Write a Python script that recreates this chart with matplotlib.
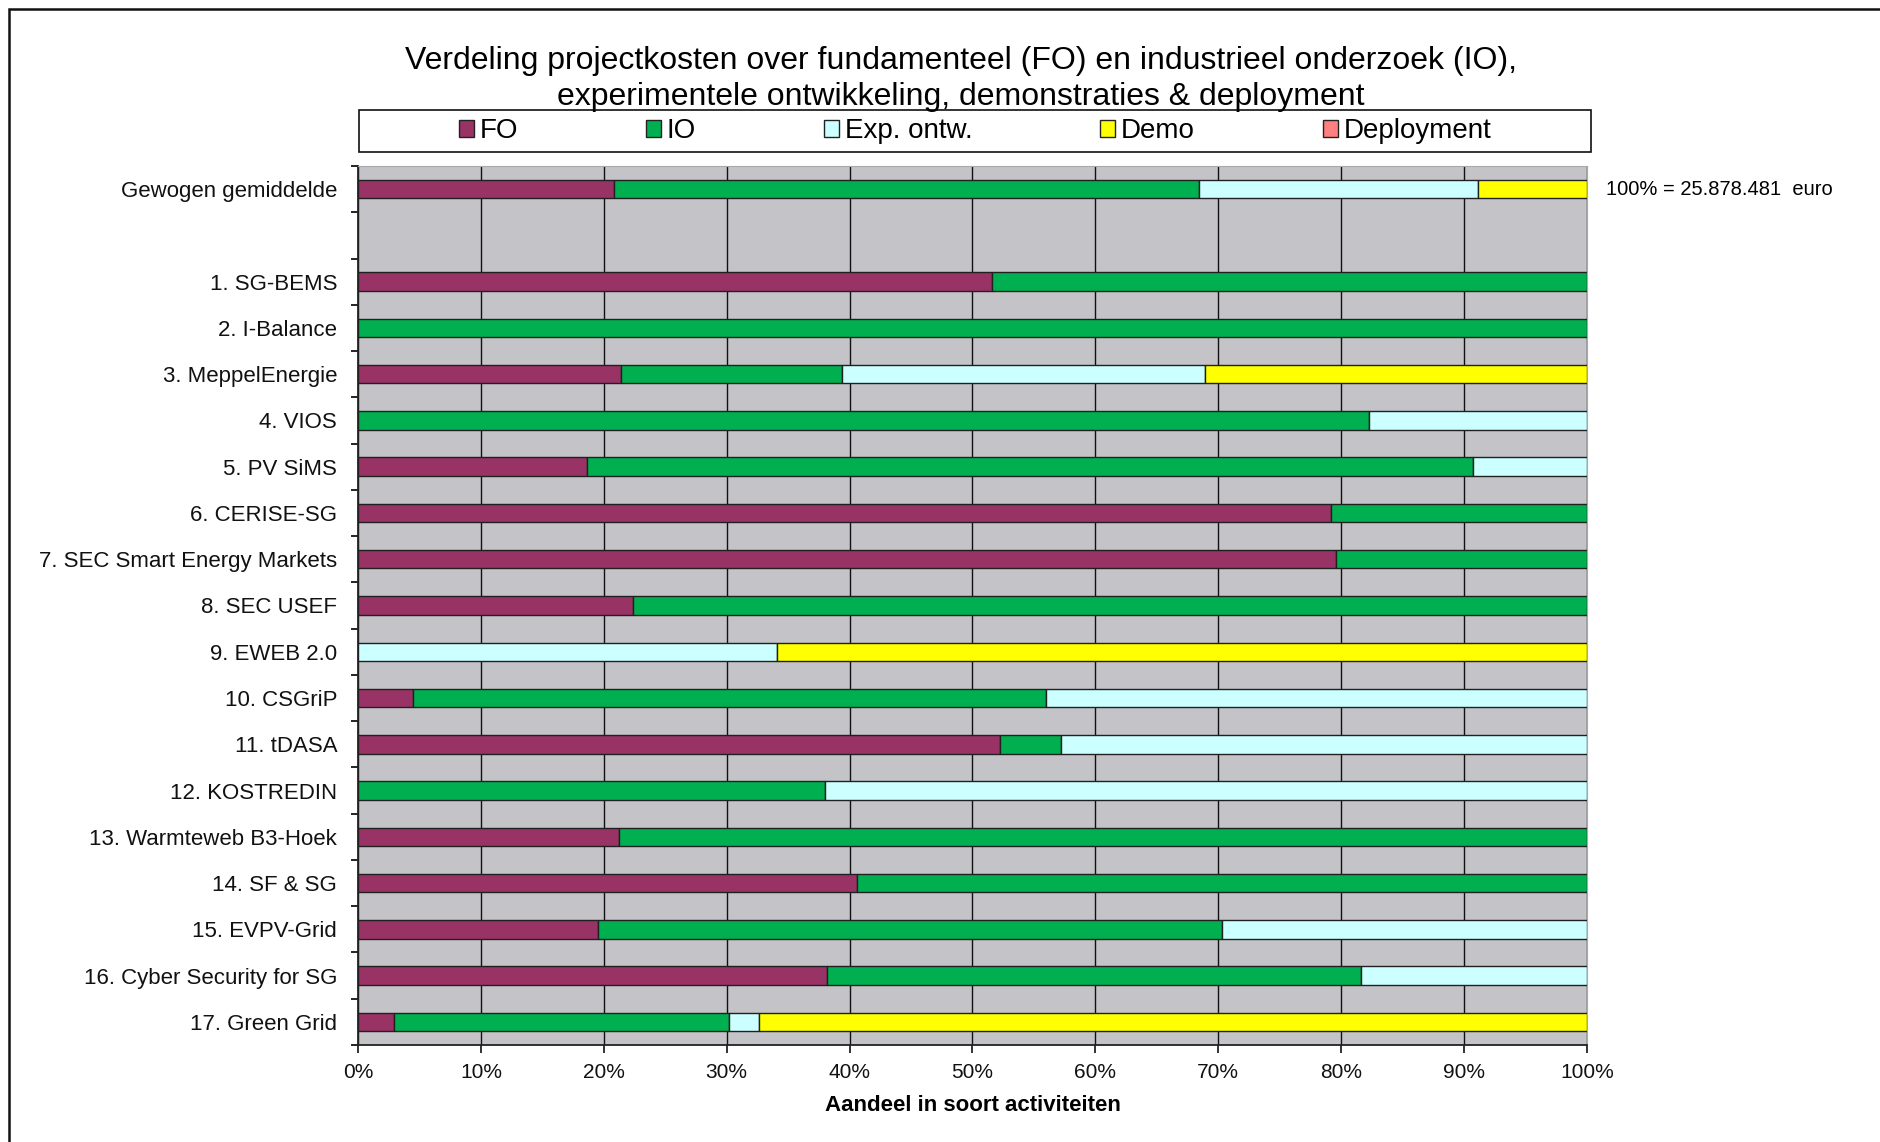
import numpy as np
import matplotlib
matplotlib.use('Agg')
from matplotlib import pyplot as plt
from matplotlib.patches import Rectangle, Patch
from matplotlib.ticker import MultipleLocator, FuncFormatter

plt.rcParams['font.family'] = ['Liberation Sans', 'DejaVu Sans']

labels = ['Gewogen gemiddelde', '', '1. SG-BEMS', '2. I-Balance', '3. MeppelEnergie',
          '4. VIOS', '5. PV SiMS', '6. CERISE-SG', '7. SEC Smart Energy Markets',
          '8. SEC USEF', '9. EWEB 2.0', '10. CSGriP', '11. tDASA', '12. KOSTREDIN',
          '13. Warmteweb B3-Hoek', '14. SF & SG', '15. EVPV-Grid',
          '16. Cyber Security for SG', '17. Green Grid']

# aandelen in procenten per soort activiteit
fo     = [20.8, 0, 51.6,   0, 21.4,    0, 18.6, 79.2, 79.6, 22.4,    0,  4.5, 52.2,    0, 21.2, 40.6, 19.5, 38.2,  2.9]
io     = [47.6, 0, 48.4, 100, 18.0, 82.3, 72.1, 20.8, 20.4, 77.6,    0, 51.5,  5.0, 38.0, 78.8, 59.4, 50.8, 43.4, 27.3]
exp    = [22.7, 0,    0,   0, 29.5, 17.7,  9.3,    0,    0,    0, 34.1, 44.0, 42.8, 62.0,    0,    0, 29.7, 18.4,  2.4]
demo   = [ 8.9, 0,    0,   0, 31.1,    0,    0,    0,    0,    0, 65.9,    0,    0,    0,    0,    0,    0,    0, 67.4]
deploy = [   0, 0,    0,   0,    0,    0,    0,    0,    0,    0,    0,    0,    0,    0,    0,    0,    0,    0,    0]

series = [('FO', fo, '#993366'),
          ('IO', io, '#00b050'),
          ('Exp. ontw.', exp, '#ccffff'),
          ('Demo', demo, '#ffff00'),
          ('Deployment', deploy, '#ff8080')]

totaal = '100% = 25.878.481  euro'

W, H = 1881, 1142
fig = plt.figure(figsize=(W / 100, H / 100), dpi=100)
ax = fig.add_axes([358 / W, 1 - 1045 / H, 1229 / W, 879 / H])
ax.set_facecolor('#c4c3c7')

y = np.arange(len(labels))
left = np.zeros(len(labels))
for name, vals, col in series:
    w = np.array(vals, dtype=float)
    lw = np.where(w > 0, 1.0, 0.0)
    ax.barh(y, w, left=left, height=0.4, color=col, edgecolor='#202020',
            linewidth=lw, zorder=3)
    left += w

ax.set_xlim(0, 100)
ax.set_ylim(len(labels) - 0.5, -0.5)
ax.xaxis.set_major_locator(MultipleLocator(10))
ax.xaxis.set_major_formatter(FuncFormatter(lambda v, p: '%d%%' % v))
ax.grid(axis='x', color='#111111', linewidth=1.0, zorder=1)
ax.set_axisbelow(True)

ax.set_yticks(y)
ax.set_yticklabels(labels)
ax.set_yticks(np.arange(len(labels) + 1) - 0.5, minor=True)
ax.tick_params(axis='y', which='major', length=0, pad=15, labelsize=16, colors='#111111')
ax.tick_params(axis='y', which='minor', length=5, width=1.2, direction='out')
ax.tick_params(axis='x', length=6, width=1.2, pad=7, labelsize=15, colors='#111111')

for s in ['top', 'right']:
    ax.spines[s].set_color('#a8a8a8')
for s in ['left', 'bottom']:
    ax.spines[s].set_color('#222222')
    ax.spines[s].set_linewidth(1.3)

ax.set_xlabel('Aandeel in soort activiteiten', fontsize=16, fontweight='bold', labelpad=9)

ax.annotate(totaal, xy=(100, 0), xytext=(14, 0), textcoords='offset points',
            va='center', ha='left', fontsize=14.5, annotation_clip=False)

fig.text(961 / W, 1 - 79 / H,
         'Verdeling projectkosten over fundamenteel (FO) en industrieel onderzoek (IO),\n'
         'experimentele ontwikkeling, demonstraties & deployment',
         ha='center', va='center', fontsize=23, linespacing=1.3)

# kader rond de legenda
fig.patches.append(Rectangle((359 / W, 1 - 152 / H), 1232 / W, 42 / H,
                             transform=fig.transFigure, facecolor='white',
                             edgecolor='#111111', linewidth=1.2))
handles = [Patch(facecolor=col, edgecolor='#222222', label=name) for name, vals, col in series]
fig.legend(handles=handles, loc='center', bbox_to_anchor=(975 / W, 1 - 131 / H),
           ncol=5, frameon=False, fontsize=20, handlelength=0.55, handleheight=0.55,
           handletextpad=0.2, columnspacing=4.6)

# rand rond de figuur
fig.patches.append(Rectangle((9 / W, -0.05), 1.1, 1 - 9 / H + 0.05,
                             transform=fig.transFigure, fill=False,
                             edgecolor='#111111', linewidth=1.8))

fig.savefig('out.png', dpi=100)
